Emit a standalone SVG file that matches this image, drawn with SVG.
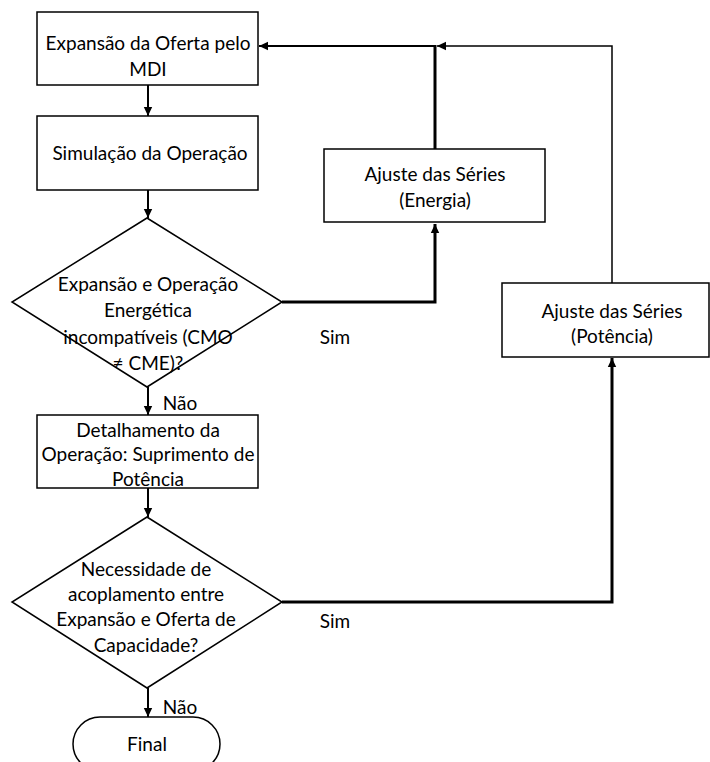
<svg xmlns="http://www.w3.org/2000/svg" width="710" height="762" viewBox="0 0 710 762">
<style>
.box{fill:#fff;stroke:#000;stroke-width:1.5}
.t{font-family:Lato,"Liberation Sans",sans-serif;font-size:19px;fill:#000;text-anchor:middle;dominant-baseline:central}
.c{fill:none;stroke:#000;stroke-width:2}
.thick{stroke-width:3}
.thin{stroke-width:1.5}
</style>
<defs>
<marker id="ah" markerUnits="userSpaceOnUse" markerWidth="10" markerHeight="10" refX="9" refY="5" orient="auto">
<path d="M0,0.8 L9,5 L0,9.2 Z" fill="#000"/>
</marker>
</defs>
<rect width="710" height="762" fill="#fff"/>
<g id="connectors">
<line class="c" x1="148" y1="85" x2="148" y2="116" marker-end="url(#ah)"/>
<line class="c" x1="148" y1="190" x2="148" y2="218" marker-end="url(#ah)"/>
<path class="c thick" d="M282,302 H435 V224" marker-end="url(#ah)"/>
<line class="c thick" x1="435" y1="149" x2="435" y2="45"/>
<line class="c" x1="436" y1="46" x2="259" y2="46" marker-end="url(#ah)"/>
<path class="c thin" d="M612,283 V46 H437" marker-end="url(#ah)"/>
<line class="c" x1="148" y1="387" x2="148" y2="415" marker-end="url(#ah)"/>
<line class="c" x1="148" y1="488" x2="148" y2="517" marker-end="url(#ah)"/>
<path class="c thick" d="M282,602 H612 V358" marker-end="url(#ah)"/>
<line class="c" x1="148" y1="688" x2="148" y2="717" marker-end="url(#ah)"/>
<text class="t" x="335" y="336">Sim</text>
<text class="t" x="180" y="402">Não</text>
<text class="t" x="335" y="620">Sim</text>
<text class="t" x="180" y="706">Não</text>
</g>
<g id="n1">
<rect class="box" x="37" y="12" width="221" height="73"/>
<text class="t" x="148" y="42">Expansão da Oferta pelo</text>
<text class="t" x="148" y="68">MDI</text>
</g>
<g id="n2">
<rect class="box" x="37" y="116" width="221" height="74"/>
<text class="t" x="150" y="152">Simulação da Operação</text>
</g>
<g id="n3">
<polygon class="box" points="147,218 282,302 147,387 12,302"/>
<text class="t" x="148" y="283">Expansão e Operação</text>
<text class="t" x="148" y="309">Energética</text>
<text class="t" x="148" y="336">incompatíveis (CMO</text>
<text class="t" x="148" y="362">≠ CME)?</text>
</g>
<g id="n4">
<rect class="box" x="324" y="149" width="221" height="73"/>
<text class="t" x="435" y="173">Ajuste das Séries</text>
<text class="t" x="435" y="199">(Energia)</text>
</g>
<g id="n5">
<rect class="box" x="502" y="283" width="207" height="74"/>
<text class="t" x="612" y="310">Ajuste das Séries</text>
<text class="t" x="612" y="335">(Potência)</text>
</g>
<g id="n6">
<rect class="box" x="37" y="415" width="221" height="73"/>
<text class="t" x="148" y="429">Detalhamento da</text>
<text class="t" x="148" y="453">Operação: Suprimento de</text>
<text class="t" x="148" y="478">Potência</text>
</g>
<g id="n7">
<polygon class="box" points="147,517 282,602 147,688 12,602"/>
<text class="t" x="146" y="568">Necessidade de</text>
<text class="t" x="146" y="593">acoplamento entre</text>
<text class="t" x="146" y="618">Expansão e Oferta de</text>
<text class="t" x="146" y="644">Capacidade?</text>
</g>
<g id="n8">
<rect class="box" x="73" y="717" width="147" height="54" rx="27" ry="27"/>
<text class="t" x="147" y="743">Final</text>
</g>
</svg>
